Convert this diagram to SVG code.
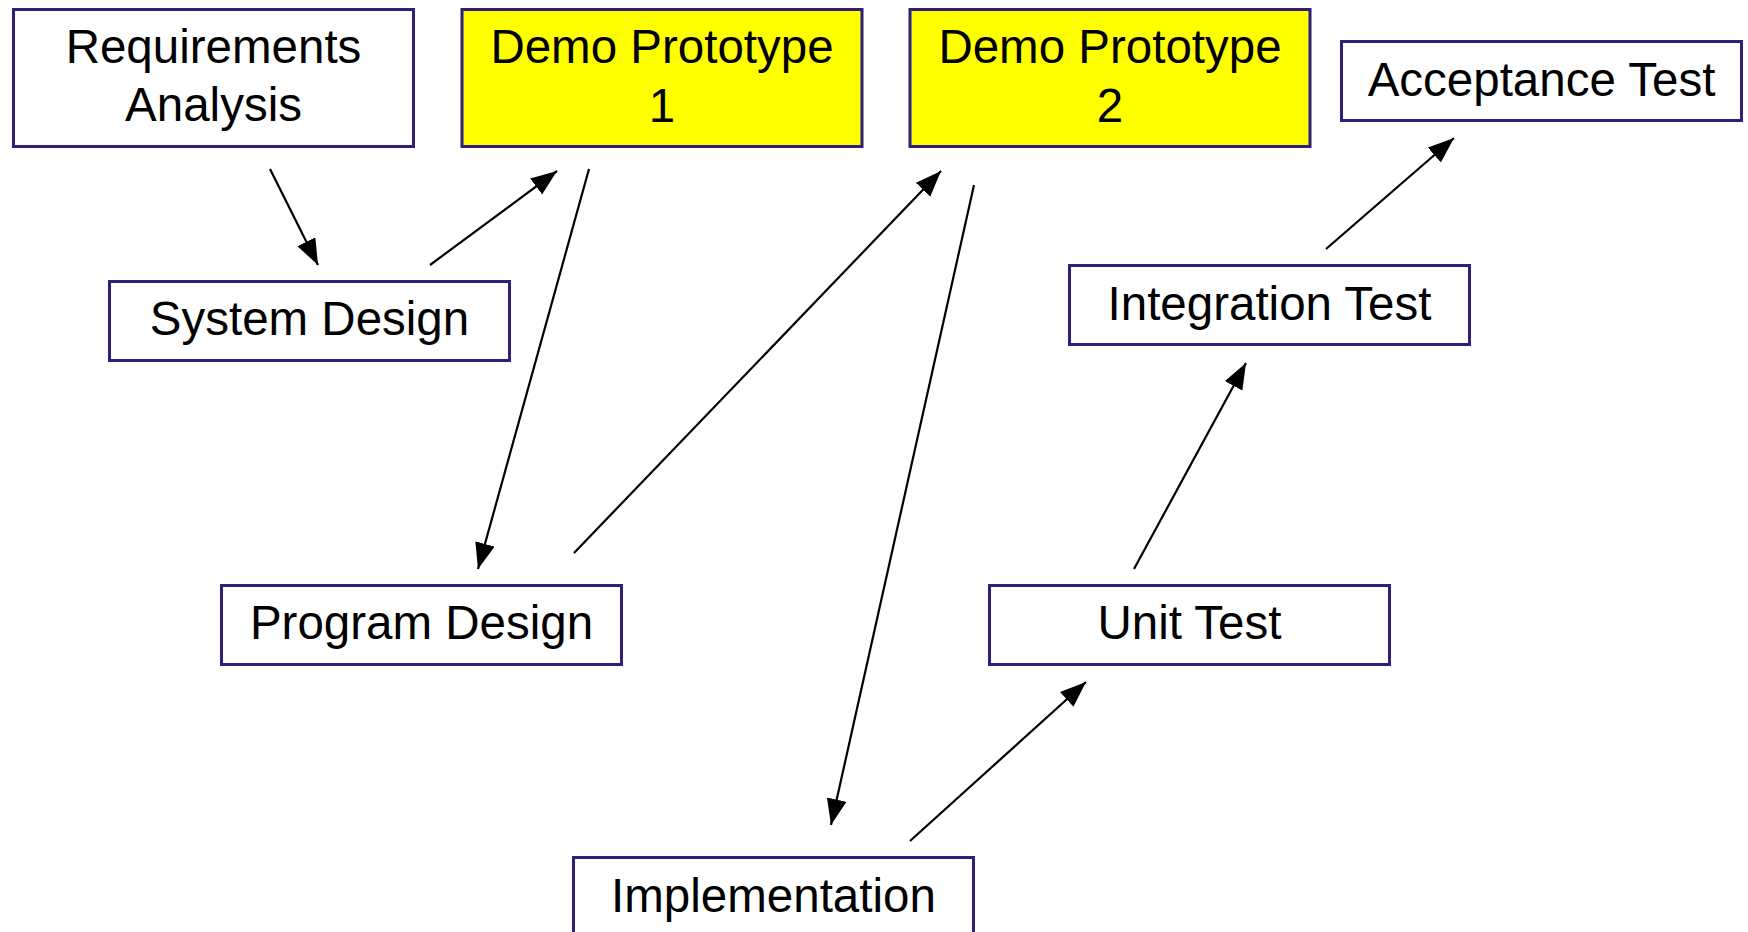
<svg xmlns="http://www.w3.org/2000/svg" width="1748" height="932" viewBox="0 0 1748 932">
<style>
.box{fill:#ffffff;stroke:#2e1f7f;stroke-width:3}
.demo{fill:#ffff00;stroke:#2e1f7f;stroke-width:3}
.lbl{font-family:"Liberation Sans",Arial,Helvetica,sans-serif;font-size:47.5px;fill:#000000;text-anchor:middle}
.conn{stroke:#000000;stroke-width:2.2;fill:none;marker-end:url(#arr)}
</style>
<defs>
<marker id="arr" markerUnits="userSpaceOnUse" markerWidth="28" markerHeight="22" refX="26" refY="10" orient="auto">
<path d="M0,0 L26,10 L0,20 z" fill="#000000"/>
</marker>
</defs>
<rect width="1748" height="932" fill="#ffffff"/>
<g id="req">
<rect class="box" x="13.5" y="9.5" width="400" height="137"/>
<text class="lbl" x="213.5" y="63">Requirements</text>
<text class="lbl" x="213.5" y="121">Analysis</text>
</g>
<g id="demo1">
<rect class="demo" x="462" y="9.5" width="400" height="137"/>
<text class="lbl" x="662" y="63">Demo Prototype</text>
<text class="lbl" x="662" y="122">1</text>
</g>
<g id="demo2">
<rect class="demo" x="910" y="9.5" width="400" height="137"/>
<text class="lbl" x="1110" y="63">Demo Prototype</text>
<text class="lbl" x="1110" y="122">2</text>
</g>
<g id="acceptance">
<rect class="box" x="1341.5" y="41.5" width="400" height="79"/>
<text class="lbl" x="1541.5" y="96">Acceptance Test</text>
</g>
<g id="system">
<rect class="box" x="109.5" y="281.5" width="400" height="79"/>
<text class="lbl" x="309.5" y="335">System Design</text>
</g>
<g id="integration">
<rect class="box" x="1069.5" y="265.5" width="400" height="79"/>
<text class="lbl" x="1269.5" y="320">Integration Test</text>
</g>
<g id="program">
<rect class="box" x="221.5" y="585.5" width="400" height="79"/>
<text class="lbl" x="421.5" y="639">Program Design</text>
</g>
<g id="unit">
<rect class="box" x="989.5" y="585.5" width="400" height="79"/>
<text class="lbl" x="1189.5" y="639">Unit Test</text>
</g>
<g id="implementation">
<rect class="box" x="573.5" y="857.5" width="400" height="90"/>
<text class="lbl" x="773.5" y="912">Implementation</text>
</g>
<g id="connectors">
<line class="conn" x1="270" y1="169" x2="318" y2="265"/>
<line class="conn" x1="430" y1="265" x2="557" y2="171"/>
<line class="conn" x1="589" y1="169" x2="478" y2="569"/>
<line class="conn" x1="574" y1="553" x2="941" y2="171"/>
<line class="conn" x1="974" y1="185" x2="831" y2="825"/>
<line class="conn" x1="910" y1="841" x2="1086" y2="682"/>
<line class="conn" x1="1134" y1="569" x2="1246" y2="363"/>
<line class="conn" x1="1326" y1="249" x2="1454" y2="138"/>
</g>
</svg>
